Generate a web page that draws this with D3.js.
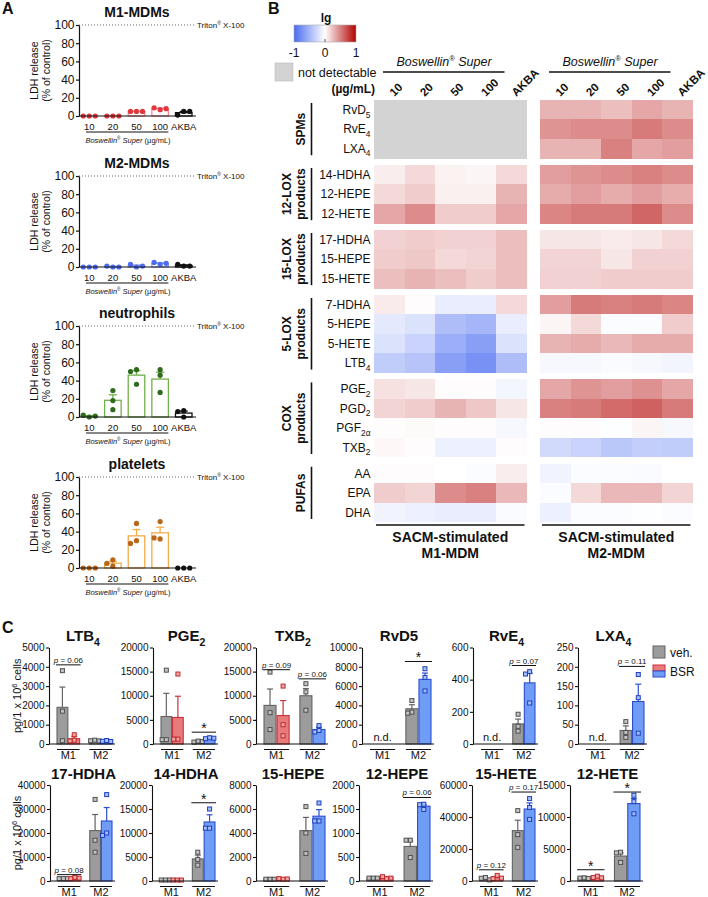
<!DOCTYPE html>
<html><head><meta charset="utf-8">
<script src="https://cdn.jsdelivr.net/npm/d3@7"></script>
<style>
body{margin:0;background:#fff;}
svg text{font-family:"Liberation Sans",Arial,Helvetica,sans-serif;fill:#111;}
</style></head><body>
<script>
// ================= DATA =================
// ---- Panel A: LDH release (% of control), three donors per condition ----
const ldhCategories = ["10","20","50","100","AKBA"];
const ldhPanelTitles = ["M1-MDMs","M2-MDMs","neutrophils","platelets"];
const ldhM1 = [[0,0,0],[0,0,0],[5,5,5],[7,9,8],[5,1,5]];
const ldhM2 = [[0,0,0],[0,1,0],[0,3,1],[3,5,4],[1,3,1]];
const ldhNeutrophils = [[0,2,1],[8,18,29],[52,50,36],[52,46,27],[7,6,0]];
const ldhPlatelets = [[0,0,0],[2,9,5],[49,30,27],[51,32,33],[0,0,0]];
const ldhTicks = [0,20,40,60,80,100];

// ---- Panel B: heatmap (lg fold change) ----
const lmGroups = ["SPMs","12-LOX products","15-LOX products","5-LOX products","COX products","PUFAs"];
const lmRows = ["RvD_5","RvE_4","LXA_4","14-HDHA","12-HEPE","12-HETE","17-HDHA","15-HEPE","15-HETE",
  "7-HDHA","5-HEPE","5-HETE","LTB_4","PGE_2","PGD_2","PGF_2α","TXB_2","AA","EPA","DHA"];
const lmRowGroup = [0,0,0,1,1,1,2,2,2,3,3,3,3,4,4,4,4,5,5,5];
const heatColumns = ["10","20","50","100","AKBA"];
const heatM1 = [
  [null,null,null,null,null],[null,null,null,null,null],[null,null,null,null,null],
  [0.07,0.15,0.05,0.04,0.15],[0.15,0.2,0.06,0.06,0.3],[0.35,0.45,0.2,0.2,0.35],
  [0.18,0.2,0.18,0.18,0.25],[0.2,0.22,0.15,0.17,0.25],[0.25,0.3,0.25,0.2,0.25],
  [0.08,0.01,-0.12,-0.12,0.15],[-0.15,-0.2,-0.45,-0.5,-0.12],[-0.2,-0.3,-0.55,-0.65,-0.2],[-0.35,-0.4,-0.65,-0.75,-0.45],
  [0.12,0.1,0.01,0.01,-0.06],[0.17,0.2,0.3,0.22,0.1],[0.01,0.02,0.01,0.01,-0.05],[0.03,0.01,-0.1,-0.1,0.01],
  [0.01,0.01,0.0,-0.02,0.07],[0.2,0.17,0.45,0.5,0.28],[-0.08,-0.1,-0.12,-0.12,-0.03]];
const heatM2 = [
  [0.3,0.3,0.25,0.35,0.3],[0.42,0.45,0.45,0.52,0.45],[0.3,0.3,0.5,0.35,0.38],
  [0.38,0.42,0.45,0.5,0.45],[0.33,0.38,0.33,0.38,0.32],[0.48,0.52,0.52,0.6,0.45],
  [0.1,0.1,0.08,0.1,0.15],[0.17,0.17,0.1,0.18,0.18],[0.18,0.18,0.2,0.2,0.2],
  [0.38,0.52,0.5,0.52,0.48],[0.04,0.15,-0.02,-0.02,0.2],[0.3,0.33,0.28,0.33,0.33],[-0.05,-0.05,-0.03,-0.05,-0.07],
  [0.35,0.42,0.38,0.43,0.35],[0.5,0.52,0.58,0.62,0.52],[0.01,0.01,-0.01,0.04,-0.05],[-0.25,-0.3,-0.38,-0.33,-0.35],
  [-0.08,-0.02,-0.02,-0.03,0.0],[-0.02,0.15,0.28,0.28,0.17],[-0.1,-0.02,-0.02,-0.01,-0.02]];
const heatLegendTicks = [-1,0,1];
const heatMapTitles = [["SACM-stimulated","M1-MDM"],["SACM-stimulated","M2-MDM"]];

// ---- Panel C: lipid mediators (pg/1 x 10^6 cells) ----
const cAnalytes = ["LTB_4","PGE_2","TXB_2","RvD5","RvE_4","LXA_4","17-HDHA","14-HDHA","15-HEPE","12-HEPE","15-HETE","12-HETE"];
const cGroups = ["M1","M2"];
const cTreatments = ["veh.","BSR"];
const cYMax = [5000,20000,20000,10000,600,250,40000,20000,8000,2000,60000,15000];
const cTickStep = [1000,5000,5000,2000,200,50,10000,5000,2000,500,20000,5000];
// order: M1 veh, M1 BSR, M2 veh, M2 BSR ; null = not detected
const cMeans = [
  [1900,280,180,150],[5700,5500,500,1200],[8000,5900,10000,3000],[null,null,3650,6700],
  [null,null,125,380],[null,null,35,110],[1000,1200,21000,25000],[200,200,4600,12300],
  [150,170,4200,5400],[60,70,720,1560],[1500,2300,31500,45000],[450,600,3900,12100]];
const cSems = [
  [1050,120,20,20],[4800,4400,60,60],[3400,3100,1500,500],[null,null,420,650],
  [null,null,30,60],[null,null,12,45],[50,150,6700,5600],[20,20,800,1500],
  [10,20,1100,550],[5,12,110,30],[500,700,6500,3800],[30,80,500,800]];
const cPoints = [
  [[3800,1700,170],[480,200,160],[200,170,160],[180,140,130]],
  [[15300,900,900],[14500,1000,1000],[600,400,500],[1300,1100,1200]],
  [[14900,6500,3000],[12000,4000,1700],[12500,10800,7000],[3800,2800,2500]],
  [[],[],[4500,3300,3200],[7800,6900,5500]],
  [[],[],[185,110,80],[450,435,255]],
  [[],[],[58,30,17],[180,120,28]],
  [[1000,1000,1000],[1500,1000,1200],[34000,17000,12000],[36000,20000,19000]],
  [[200,200,200],[200,200,200],[6000,4500,3300],[15000,11000,11000]],
  [[150,150,150],[150,200,170],[6200,4000,2300],[6500,5000,5000]],
  [[60,60,60],[50,90,60],[850,850,490],[1600,1590,1490]],
  [[2200,1700,700],[3500,1500,1800],[44000,29000,21000],[51500,46000,38500]],
  [[500,450,400],[750,550,500],[4500,4400,2900],[13400,12400,10500]]];
const cSignificance = [
  [{g:"M1",label:"p = 0.06",level:4100}],
  [{g:"M2",label:"*",level:2450}],
  [{g:"M1",label:"p = 0.09",level:15400},{g:"M2",label:"p = 0.06",level:13500}],
  [{g:"M2",label:"*",level:8550}],
  [{g:"M2",label:"p = 0.07",level:488}],
  [{g:"M2",label:"p = 0.11",level:201}],
  [{g:"M1",label:"p = 0.08",level:2650}],
  [{g:"M2",label:"*",level:16300}],
  [],
  [{g:"M2",label:"p = 0.06",level:1740}],
  [{g:"M1",label:"p = 0.12",level:7000},{g:"M2",label:"p = 0.17",level:55600}],
  [{g:"M1",label:"*",level:1760},{g:"M2",label:"*",level:13900}]];

// ================= DRAWING =================
const svg = d3.select("body").append("svg").attr("width",708).attr("height",897);

function subText(sel, label, size) {
  const parts = label.split("_");
  sel.append("tspan").text(parts[0]);
  if (parts.length > 1) sel.append("tspan").attr("font-size", size*0.7).attr("dy", size*0.3).text(parts[1]);
}
function boswellin(sel, size) {
  sel.append("tspan").text("Boswellin");
  sel.append("tspan").attr("font-size", size*0.6).attr("dy", -size*0.4).text("®");
  sel.append("tspan").attr("dy", size*0.4).text(" Super");
}
function dodge(values, yScale, r, step) {
  const placed = [];
  return values.map(v => {
    const py = yScale(v);
    for (const off of [0,-step,step,-2*step,2*step]) {
      if (placed.every(p => Math.hypot(p.x-off, p.y-py) >= 2*r*0.95)) { placed.push({x:off,y:py}); return off; }
    }
    return 0;
  });
}
const fmt = d3.format("d");

// panel letters
[["A",2,14],["B",268,14],["C",2,633]].forEach(([t,x,y]) =>
  svg.append("text").attr("x",x).attr("y",y).attr("font-size",16).attr("font-weight","bold").text(t));

// ---------- Panel A ----------
const aData = [ldhM1, ldhM2, ldhNeutrophils, ldhPlatelets];
const aColors = [
  {bar:"#f08a8d", dot:"#e3363d"},
  {bar:"#8aa3f6", dot:"#4d6cf2"},
  {bar:"#72b04a", dot:"#2f6a1e"},
  {bar:"#f5ab4a", dot:"#b8661a"}];
const aTop = [25,176,326,477];
aData.forEach((pts,k) => {
  const g = svg.append("g");
  const y = d3.scaleLinear([0,100],[aTop[k]+91, aTop[k]]);
  const x = d3.scaleBand(ldhCategories,[81,192]).paddingInner(0.3);
  const bw = x.bandwidth();
  g.append("text").attr("x",137).attr("y",aTop[k]-8).attr("text-anchor","middle")
    .attr("font-size",14).attr("font-weight","bold").text(ldhPanelTitles[k]);
  g.append("line").attr("x1",79).attr("x2",195).attr("y1",y(100)).attr("y2",y(100))
    .attr("stroke","#666").attr("stroke-width",1).attr("stroke-dasharray","1,2");
  const tt = g.append("text").attr("x",197).attr("y",y(100)+3).attr("font-size",8);
  tt.append("tspan").text("Triton");
  tt.append("tspan").attr("font-size",5).attr("dy",-3).text("®");
  tt.append("tspan").attr("dy",3).text(" X-100");
  ldhCategories.forEach((c,i) => {
    const v = pts[i];
    const m = d3.mean(v), s = d3.deviation(v)/Math.sqrt(v.length);
    const col = c === "AKBA" ? "#111" : aColors[k].bar;
    const dcol = c === "AKBA" ? "#111" : aColors[k].dot;
    const cx = x(c) + bw/2;
    g.append("rect").attr("x",x(c)).attr("width",bw).attr("y",y(m)).attr("height",y(0)-y(m))
      .attr("fill","#fff").attr("stroke",col).attr("stroke-width",1.3);
    if (s > 0.3) {
      g.append("line").attr("x1",cx).attr("x2",cx).attr("y1",y(m)).attr("y2",y(m+s)).attr("stroke",col).attr("stroke-width",1.3);
      g.append("line").attr("x1",cx-4).attr("x2",cx+4).attr("y1",y(m+s)).attr("y2",y(m+s)).attr("stroke",col).attr("stroke-width",1.3);
    }
    const offs = dodge(v, y, 2.6, 6);
    v.forEach((p,j) => g.append("circle").attr("cx",cx+offs[j]).attr("cy",y(p)).attr("r",2.6).attr("fill",dcol));
  });
  const ya = g.append("g").attr("transform","translate(79,0)")
    .call(d3.axisLeft(y).tickValues(ldhTicks).tickFormat(fmt).tickSize(3).tickSizeOuter(0));
  ya.select(".domain").attr("stroke","#111").attr("stroke-width",1.2);
  ya.selectAll(".tick line").attr("stroke","#111").attr("stroke-width",1.2);
  ya.selectAll(".tick text").attr("font-size",12).attr("x",-4.5).attr("fill","#111")
    .attr("font-family","'Liberation Sans',Arial,sans-serif");
  g.append("line").attr("x1",79).attr("x2",196).attr("y1",y(0)).attr("y2",y(0)).attr("stroke","#111").attr("stroke-width",1.2);
  ldhCategories.forEach(c => g.append("text").attr("x",x(c)+bw/2).attr("y",y(0)+14)
    .attr("text-anchor","middle").attr("font-size",9.5).text(c));
  g.append("line").attr("x1",x("10")+5).attr("x2",x("100")+bw).attr("y1",y(0)+16).attr("y2",y(0)+16)
    .attr("stroke","#111").attr("stroke-width",1);
  const bt = g.append("text").attr("x",128).attr("y",y(0)+26.5).attr("text-anchor","middle").attr("font-size",7.5);
  const bi = bt.append("tspan").attr("font-style","italic");
  boswellin(bi, 7.5);
  bt.append("tspan").text(" (µg/mL)");
  const yl = g.append("text").attr("transform",`translate(34,${y(50)}) rotate(-90)`).attr("text-anchor","middle").attr("font-size",10.5);
  yl.append("tspan").attr("x",0).attr("dy","0.35em").text("LDH release");
  yl.append("tspan").attr("x",0).attr("dy","1.15em").text("(% of control)");
});

// ---------- Panel B ----------
const color = d3.scaleLinear([-1,0,1],["#4a6cf0","#ffffff","#b30000"]);
const rowH = 19.4, groupGap = 6.8, heatTop = 100;
const rowY = i => heatTop + i*rowH + lmRowGroup[i]*groupGap;
const mapX = [374, 540], mapW = 152.5;
const defs = svg.append("defs");
const grad = defs.append("linearGradient").attr("id","lgGrad");
d3.range(-1,1.001,0.25).forEach(v => grad.append("stop").attr("offset",`${(v+1)*50}%`).attr("stop-color",color(v)));
svg.append("rect").attr("x",294).attr("y",25).attr("width",62).attr("height",17).attr("fill","url(#lgGrad)").attr("stroke","#aaa").attr("stroke-width",0.6);
svg.append("text").attr("x",326).attr("y",22).attr("text-anchor","middle").attr("font-size",12).attr("font-weight","bold").text("lg");
const lgx = d3.scaleLinear([-1,1],[294,356]);
heatLegendTicks.forEach(t => svg.append("text").attr("x",lgx(t)).attr("y",57).attr("text-anchor","middle").attr("font-size",12).text(t === -1 ? "-1" : t));
svg.append("line").attr("x1",lgx(0)).attr("x2",lgx(0)).attr("y1",39).attr("y2",42).attr("stroke","#555");
svg.append("rect").attr("x",275).attr("y",63).attr("width",18).attr("height",18).attr("fill","#d3d3d3").attr("stroke","#bbb").attr("stroke-width",0.6);
svg.append("text").attr("x",298).attr("y",77).attr("font-size",12.5).text("not detectable");
svg.append("text").attr("x",375).attr("y",93).attr("text-anchor","end").attr("font-size",12).attr("font-weight","bold").text("(µg/mL)");

[heatM1, heatM2].forEach((vals, m) => {
  const g = svg.append("g");
  const x = d3.scaleBand(heatColumns,[mapX[m], mapX[m]+mapW]);
  const bw = x.bandwidth();
  lmRows.forEach((r,i) => heatColumns.forEach((c,j) => {
    const v = vals[i][j];
    g.append("rect").attr("x",x(c)).attr("y",rowY(i)).attr("width",bw+0.4).attr("height",rowH+0.4)
      .attr("fill", v === null ? "#d3d3d3" : color(v)).attr("shape-rendering","crispEdges");
  }));
  heatColumns.forEach(c => g.append("text")
    .attr("transform",`translate(${x(c)+bw/2+5},97) rotate(-45)`)
    .attr("font-size",11.5).attr("font-weight","bold").text(c));
  const ht = g.append("text").attr("x",(x("10")+x("100")+bw)/2+9).attr("y",66).attr("text-anchor","middle")
    .attr("font-size",12.5).attr("font-style","italic");
  boswellin(ht, 12.5);
  g.append("line").attr("x1",x("10")+9).attr("x2",x("100")+bw+8.5).attr("y1",72).attr("y2",72).attr("stroke","#111").attr("stroke-width",1.5);
  const yb = rowY(lmRows.length-1)+rowH+3;
  g.append("line").attr("x1",mapX[m]+2).attr("x2",mapX[m]+mapW-2).attr("y1",yb).attr("y2",yb).attr("stroke","#111").attr("stroke-width",1.5);
  heatMapTitles[m].forEach((t,k) => g.append("text").attr("x",mapX[m]+mapW/2).attr("y",yb+17+k*16)
    .attr("text-anchor","middle").attr("font-size",14).attr("font-weight","bold").text(t));
});
lmRows.forEach((r,i) => {
  const t = svg.append("text").attr("x",370.5).attr("y",rowY(i)+rowH/2+4.3).attr("text-anchor","end").attr("font-size",12);
  subText(t, r, 12);
});
lmGroups.forEach((gname, gi) => {
  const idx = lmRowGroup.map((d,i)=>d===gi?i:-1).filter(i=>i>=0);
  const top = rowY(idx[0]), bot = rowY(idx[idx.length-1]) + rowH;
  svg.append("line").attr("x1",311.5).attr("x2",311.5).attr("y1",top+3).attr("y2",bot-3).attr("stroke","#111").attr("stroke-width",1.6);
  const lines = gname.split(" ");
  const xs = lines.length === 1 ? [301] : [287, 301];
  lines.forEach((l,k) => svg.append("text")
    .attr("transform",`translate(${xs[k]},${(top+bot)/2}) rotate(-90)`)
    .attr("text-anchor","middle").attr("dy","0.35em").attr("font-size",12).attr("font-weight","bold").text(l));
});

// ---------- Panel C ----------
const cRowTop = [647.5, 785], cRowBottom = [744, 881];
const cAxisX = [[49,153,256,362,473,578],[50,152,256,359,472,570]];
const cWidth = [[66,65,72,72,65,69],[65,66,72,74,66,73]];
const cFill = {veh:"#9c9c9c", M1:"#e97a7c", M2:"#6f9df5"};
const cStroke = {veh:"#636363", M1:"#c8323a", M2:"#2c4fd0"};
const cPtStroke = {veh:"#505050", M1:"#c0282a", M2:"#1f3fbf"};
const cPtFill = {veh:"#c4c4c4", M1:"#f2a6a6", M2:"#a3c0f8"};

cAnalytes.forEach((name, i) => {
  const row = Math.floor(i/6), col = i%6;
  const ax = cAxisX[row][col], w = cWidth[row][col];
  const top = cRowTop[row], bottom = cRowBottom[row];
  const g = svg.append("g");
  const y = d3.scaleLinear([0,cYMax[i]],[bottom, top]);
  const x0 = d3.scaleBand(cGroups,[ax+8, ax+w-3]).paddingInner(0.3);
  const x1 = d3.scaleBand(cTreatments,[0, x0.bandwidth()]).paddingInner(0.08);
  const tt = g.append("text").attr("x",ax+w/2+1).attr("y",top-6.5).attr("text-anchor","middle")
    .attr("font-size",15).attr("font-weight","bold");
  subText(tt, name, 15);
  cGroups.forEach((grp, gi) => {
    cTreatments.forEach((tr, ti) => {
      const idx = gi*2+ti;
      const m = cMeans[i][idx];
      if (m === null) return;
      const key = tr === "veh." ? "veh" : grp;
      const bx = x0(grp) + x1(tr), bw = x1.bandwidth(), cx = bx + bw/2;
      const s = cSems[i][idx];
      g.append("line").attr("x1",cx).attr("x2",cx).attr("y1",y(m)).attr("y2",y(m+s)).attr("stroke",cStroke[key]).attr("stroke-width",1.2);
      g.append("line").attr("x1",cx-3).attr("x2",cx+3).attr("y1",y(m+s)).attr("y2",y(m+s)).attr("stroke",cStroke[key]).attr("stroke-width",1.2);
      g.append("rect").attr("x",bx).attr("y",y(m)).attr("width",bw).attr("height",Math.max(0.8,y(0)-y(m)))
        .attr("fill",cFill[key]).attr("stroke",cStroke[key]).attr("stroke-width",1.1);
      const pts = cPoints[i][idx];
      const offs = dodge(pts, y, 2.1, 4.2);
      pts.forEach((p,j) => g.append("rect").attr("x",cx+offs[j]-2).attr("y",y(p)-2).attr("width",4).attr("height",4)
        .attr("fill",cPtFill[key]).attr("stroke",cPtStroke[key]).attr("stroke-width",1));
    });
    if (cMeans[i][gi*2] === null) {
      g.append("text").attr("x",x0(grp)+x0.bandwidth()/2).attr("y",bottom-3).attr("text-anchor","middle").attr("font-size",11).text("n.d.");
    }
    g.append("line").attr("x1",x0(grp)).attr("x2",x0(grp)+x0.bandwidth()).attr("y1",bottom+5.5).attr("y2",bottom+5.5).attr("stroke","#111").attr("stroke-width",1);
    g.append("text").attr("x",x0(grp)+x0.bandwidth()/2).attr("y",bottom+15).attr("text-anchor","middle").attr("font-size",11).text(grp);
  });
  cSignificance[i].forEach(s => {
    const ly = y(s.level);
    g.append("line").attr("x1",x0(s.g)-1).attr("x2",x0(s.g)+x0.bandwidth()+1).attr("y1",ly).attr("y2",ly).attr("stroke","#111").attr("stroke-width",1);
    if (s.label === "*") {
      g.append("text").attr("x",x0(s.g)+x0.bandwidth()/2).attr("y",ly+1).attr("text-anchor","middle").attr("font-size",14).text("*");
    } else {
      const t = g.append("text").attr("x",x0(s.g)+x0.bandwidth()/2).attr("y",ly-2).attr("text-anchor","middle").attr("font-size",8);
      t.append("tspan").attr("font-style","italic").text("p");
      t.append("tspan").text(s.label.slice(1));
    }
  });
  const ya = g.append("g").attr("transform",`translate(${ax},0)`)
    .call(d3.axisLeft(y).tickValues(d3.range(0,cYMax[i]+1,cTickStep[i])).tickFormat(fmt).tickSize(3).tickSizeOuter(0));
  ya.select(".domain").attr("stroke","#111").attr("stroke-width",1.1);
  ya.selectAll(".tick line").attr("stroke","#111").attr("stroke-width",1.1);
  ya.selectAll(".tick text").attr("font-size",10).attr("x",-4.5).attr("fill","#111")
    .attr("font-family","'Liberation Sans',Arial,sans-serif");
  g.append("line").attr("x1",ax).attr("x2",ax+w).attr("y1",bottom).attr("y2",bottom).attr("stroke","#111").attr("stroke-width",1.1);
  if (col === 0) {
    const yl = g.append("text").attr("transform",`translate(17,${(top+bottom)/2}) rotate(-90)`)
      .attr("text-anchor","middle").attr("dy","0.35em").attr("font-size",11);
    yl.append("tspan").text("pg/1 x 10");
    yl.append("tspan").attr("font-size",7.5).attr("dy",-4).text("6");
    yl.append("tspan").attr("dy",4).text(" cells");
  }
});
svg.append("rect").attr("x",653).attr("y",646).attr("width",12).attr("height",12).attr("fill",cFill.veh).attr("stroke",cStroke.veh);
svg.append("text").attr("x",670).attr("y",656.5).attr("font-size",12).text(cTreatments[0]);
svg.append("rect").attr("x",653).attr("y",665).attr("width",12).attr("height",6).attr("fill",cFill.M1).attr("stroke",cStroke.M1);
svg.append("rect").attr("x",653).attr("y",671).attr("width",12).attr("height",6).attr("fill",cFill.M2).attr("stroke",cStroke.M2);
svg.append("text").attr("x",670).attr("y",675.5).attr("font-size",12).text(cTreatments[1]);
</script>
</body></html>
